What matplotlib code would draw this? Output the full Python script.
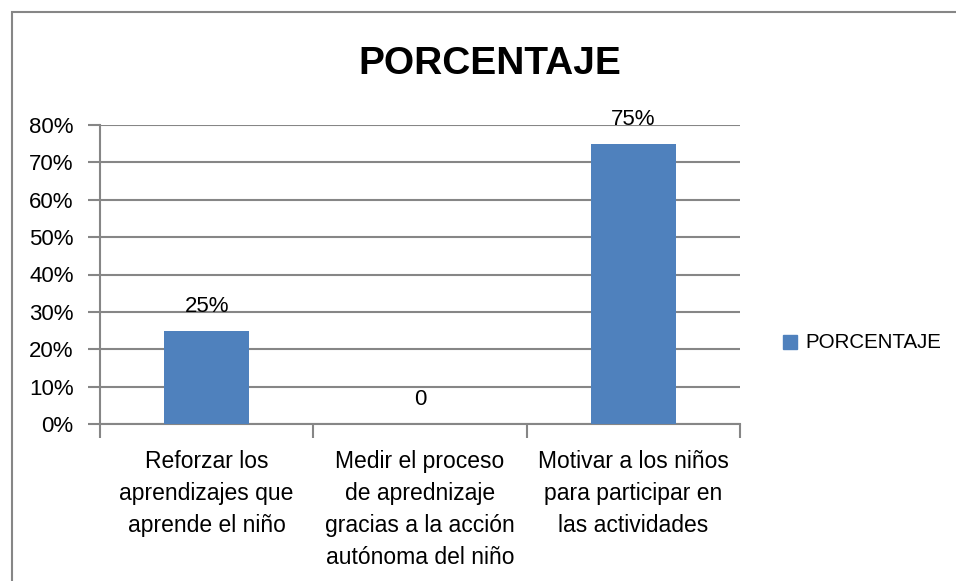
import matplotlib
matplotlib.use("Agg")
import matplotlib.pyplot as plt
from matplotlib.patches import Rectangle

categories = [
    "Reforzar los\naprendizajes que\naprende el niño",
    "Medir el proceso\nde aprednizaje\ngracias a la acción\nautónoma del niño",
    "Motivar a los niños\npara participar en\nlas actividades",
]
values = [0.25, 0.0, 0.75]
value_labels = ["25%", "0", "75%"]
yticks = [0, 0.1, 0.2, 0.3, 0.4, 0.5, 0.6, 0.7, 0.8]
series_name = "PORCENTAJE"

BLUE = "#4F81BD"
GRID = "#868686"

plt.rcParams["font.family"] = ["Liberation Sans", "DejaVu Sans"]

fig = plt.figure(figsize=(9.56, 5.81), dpi=100)
ax = fig.add_axes([100 / 956, 1 - 424 / 581, 640 / 956, 299 / 581])

# outer chart frame
fig.patches.append(Rectangle((11.5 / 956, -0.1), 1.2, 1 - 12 / 581 + 0.1,
                             transform=fig.transFigure, fill=False,
                             edgecolor=GRID, lw=1.5))

x = list(range(len(categories)))
ax.bar(x, values, width=0.4, color=BLUE, zorder=3)
ax.set_xlim(-0.5, 2.5)
ax.set_ylim(0, 0.8)

ax.set_yticks(yticks)
ax.set_yticklabels([f"{int(round(v * 100))}%" for v in yticks], fontsize=16)
ax.yaxis.grid(True, color=GRID, lw=1.5, zorder=0)
ax.tick_params(axis="y", length=9, width=1.5, color=GRID, pad=10)

ax.set_xticks([-0.5, 0.5, 1.5, 2.5])
ax.set_xticklabels([])
ax.set_xticks(x, minor=True)
ax.set_xticklabels(categories, minor=True, fontsize=16.5, linespacing=1.5, va="top")
ax.tick_params(axis="x", which="major", length=10, width=1.5, color=GRID)
ax.tick_params(axis="x", which="minor", length=0, pad=19)

for s in ["top", "right"]:
    ax.spines[s].set_visible(False)
for s in ["left", "bottom"]:
    ax.spines[s].set_color(GRID)
    ax.spines[s].set_linewidth(1.5)

for xi, v, lab in zip(x, values, value_labels):
    ax.annotate(lab, (xi, v), xytext=(0, 10), textcoords="offset points",
                ha="center", va="bottom", fontsize=16)

fig.text(490 / 956, 1 - 64 / 581, "PORCENTAJE", ha="center", va="center",
         fontsize=28, fontweight="bold")

fig.patches.append(Rectangle((783 / 956, 1 - 349 / 581), 14 / 956, 14 / 581,
                             transform=fig.transFigure, color=BLUE))
fig.text(805 / 956, 1 - 342 / 581, series_name, ha="left", va="center", fontsize=14.8)

fig.savefig("out.png", dpi=100)
